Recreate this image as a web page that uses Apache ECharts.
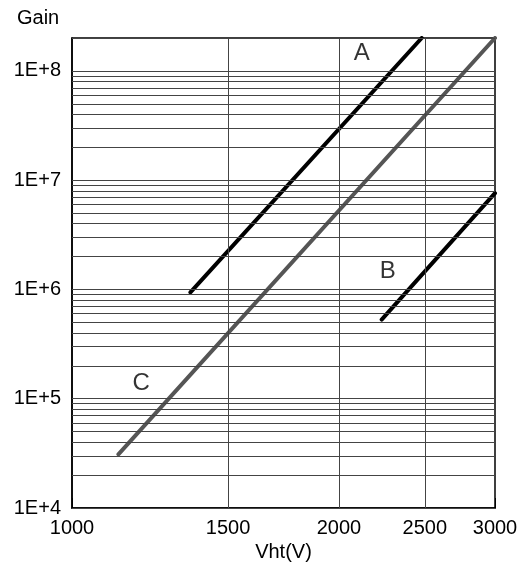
<!DOCTYPE html>
<html><head><meta charset="utf-8">
<script src="https://cdn.jsdelivr.net/npm/echarts@6/dist/echarts.min.js"></script>
<style>html,body{margin:0;padding:0;background:#fff}#c{width:525px;height:569px}</style>
</head><body><div id="c"></div>
<script>
// ---- data ----
const xTicks = [1000, 1500, 2000, 2500, 3000];
const xGrid = [1500, 2000, 2500];
const yTicks = [1e4, 1e5, 1e6, 1e7, 1e8];
const yMinorMultipliers = [2, 3, 4, 5, 6, 7, 8, 9];
const seriesA = [[1360, 9.4e5], [2480, 2.0e8]];
const seriesB = [[2235, 5.3e5], [3000, 7.6e6]];
const seriesC = [[1128, 3.1e4], [3000, 2.0e8]];
const curveLabels = [
  { name: 'A', value: [2122, 1.46e8] },
  { name: 'B', value: [2270, 1.46e6] },
  { name: 'C', value: [1197, 1.37e5] }
];

// ---- build grid line values ----
const yGrid = [];
yTicks.forEach(d => {
  yGrid.push(d);
  yMinorMultipliers.forEach(m => { if (d * m <= 2e8) yGrid.push(d * m); });
});
yGrid.push(2e8);

const FONT = '"Liberation Sans", Arial, sans-serif';
const GRIDCOL = '#444';

const chart = echarts.init(document.getElementById('c'), null, { renderer: 'canvas' });
chart.setOption({
  animation: false,
  backgroundColor: '#fff',
  title: {
    text: 'Gain', left: 12, top: 3,
    textStyle: { fontFamily: FONT, fontSize: 20, fontWeight: 'normal', color: '#000' }
  },
  grid: { left: 72, right: 30, top: 38, bottom: 61, show: true, borderColor: '#000', borderWidth: 1.5 },
  xAxis: {
    type: 'log', logBase: 10, min: 1000, max: 3000,
    name: 'Vht(V)', nameLocation: 'middle', nameGap: 27,
    nameTextStyle: { fontFamily: FONT, fontSize: 20, color: '#000' },
    axisLine: { lineStyle: { color: '#000', width: 1.5 } },
    axisTick: { inside: true, length: 10, customValues: xTicks, lineStyle: { color: '#000' } },
    axisLabel: { customValues: xTicks, margin: 10, fontFamily: FONT, fontSize: 20, color: '#000',
      formatter: v => String(Math.round(v)) },
    splitLine: { show: false }
  },
  yAxis: {
    type: 'log', logBase: 10, min: 1e4, max: 2e8,
    axisLine: { lineStyle: { color: '#000', width: 1.5 } },
    axisTick: { inside: true, length: 10, customValues: yTicks, lineStyle: { color: '#000' } },
    axisLabel: { customValues: yTicks, margin: 11, fontFamily: FONT, fontSize: 20, color: '#000',
      padding: [4, 0, 0, 0],
      formatter: v => '1E+' + Math.round(Math.log10(v)) },
    splitLine: { show: false }
  },
  series: [
    {
      name: 'grid', type: 'line', data: [], z: 1, silent: true,
      markLine: {
        silent: true, symbol: ['none', 'none'], animation: false,
        label: { show: false },
        lineStyle: { color: GRIDCOL, width: 1, type: 'solid' },
        emphasis: { disabled: true },
        data: xGrid.map(v => ({ xAxis: v })).concat(yGrid.map(v => ({ yAxis: v })))
      }
    },
    {
      name: 'A', type: 'line', data: seriesA, z: 3, symbol: 'none', silent: true,
      lineStyle: { color: '#000', width: 4, cap: 'round' }
    },
    {
      name: 'B', type: 'line', data: seriesB, z: 3, symbol: 'none', silent: true,
      lineStyle: { color: '#000', width: 4, cap: 'round' }
    },
    {
      name: 'C', type: 'line', data: seriesC, z: 3, symbol: 'none', silent: true,
      lineStyle: { color: '#555', width: 4, cap: 'round' }
    },
    {
      name: 'labels', type: 'scatter', data: curveLabels, z: 4, symbolSize: 0, silent: true,
      label: { show: true, position: 'inside', formatter: p => p.name,
        fontFamily: FONT, fontSize: 24, color: '#000' }
    }
  ]
});
</script>
</body></html>
